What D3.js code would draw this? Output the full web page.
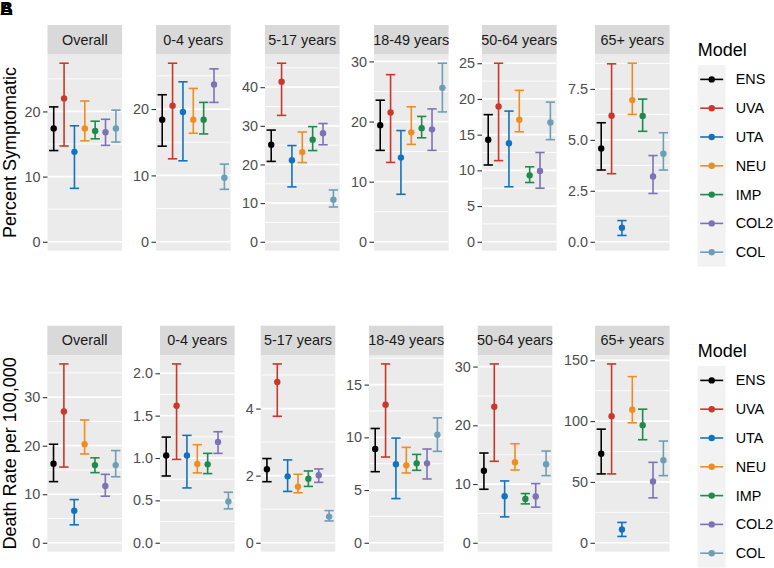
<!DOCTYPE html>
<html>
<head>
<meta charset="utf-8">
<script src="https://cdn.jsdelivr.net/npm/d3@7"></script>
<style>
  html, body { margin: 0; padding: 0; background: #ffffff; }
  svg { display: block; font-family: "Liberation Sans", Arial, Helvetica, sans-serif; }
</style>
</head>
<body>
<svg id="chart" width="774" height="568"></svg>
<script>
// ---------------- DATA ----------------
const models = ["ENS", "UVA", "UTA", "NEU", "IMP", "COL2", "COL"];
const modelColors = ["#000000", "#C8382B", "#1372C0", "#EE8D20", "#1E8A4C", "#7D72B5", "#6E9EB3"];
const panels = ["Overall", "0-4 years", "5-17 years", "18-49 years", "50-64 years", "65+ years"];

// Percent Symptomatic (rows = panels, columns = models)
const symptomaticEst = [
  [17.4, 22.0, 13.8, 17.4, 17.0, 16.8, 17.4],
  [18.4, 20.5, 19.55, 18.4, 18.4, 23.7, 9.65],
  [25.1, 41.4, 21.1, 23.2, 26.4, 28.1, 10.9],
  [19.4, 21.5, 14.0, 18.2, 18.9, 18.7, 25.6],
  [14.3, 18.95, 13.8, 17.1, 9.3, 9.9, 16.7],
  [4.58, 6.18, 0.69, 6.95, 6.17, 3.2, 4.32]
];
const symptomaticLow = [
  [14.0, 14.7, 8.2, 15.5, 15.8, 14.8, 15.3],
  [14.4, 12.5, 12.2, 16.35, 16.25, 21.0, 7.9],
  [20.8, 32.7, 14.2, 20.5, 23.6, 25.1, 9.0],
  [15.2, 13.2, 7.9, 16.2, 17.3, 15.2, 21.6],
  [10.75, 11.36, 7.7, 15.4, 8.3, 7.5, 14.3],
  [3.52, 3.34, 0.31, 6.25, 5.42, 2.37, 3.52]
];
const symptomaticHigh = [
  [20.7, 27.4, 17.8, 21.6, 18.5, 18.8, 20.2],
  [22.15, 26.9, 24.1, 23.1, 21.0, 26.05, 11.7],
  [28.9, 46.2, 24.9, 28.4, 29.8, 30.6, 13.4],
  [23.55, 27.8, 18.5, 22.45, 20.85, 22.1, 29.7],
  [17.8, 25.0, 18.3, 21.2, 10.5, 12.5, 19.55],
  [5.84, 8.73, 1.04, 8.76, 7.0, 4.23, 5.35]
];

// Death Rate per 100,000
const deathEst = [
  [16.3, 27.05, 6.6, 20.3, 16.0, 11.7, 16.0],
  [1.03, 1.616, 1.03, 0.929, 0.925, 1.19, 0.486],
  [2.19, 4.79, 1.98, 1.67, 1.91, 2.01, 0.78],
  [8.89, 13.1, 7.44, 7.34, 7.53, 7.53, 10.24],
  [12.28, 23.15, 7.92, 13.7, 7.47, 7.87, 13.36],
  [73.2, 104.1, 10.9, 109.3, 96.7, 50.3, 67.8]
];
const deathLow = [
  [12.6, 15.6, 3.7, 18.3, 14.45, 9.6, 13.6],
  [0.788, 0.984, 0.647, 0.824, 0.816, 1.055, 0.40],
  [1.82, 3.77, 1.53, 1.49, 1.68, 1.80, 0.65],
  [6.74, 8.13, 4.19, 6.62, 6.87, 6.05, 8.67],
  [9.11, 13.87, 4.41, 12.39, 6.62, 6.06, 11.43],
  [56.6, 56.6, 5.2, 98.6, 84.7, 36.9, 55.2]
];
const deathHigh = [
  [20.3, 36.85, 8.9, 25.3, 17.5, 14.1, 19.0],
  [1.247, 2.11, 1.267, 1.157, 1.055, 1.31, 0.596],
  [2.51, 5.33, 2.47, 2.04, 2.14, 2.20, 0.96],
  [10.84, 16.96, 9.93, 9.05, 8.38, 8.89, 11.85],
  [15.28, 30.45, 10.53, 16.86, 8.38, 10.07, 15.62],
  [93.4, 147.0, 16.7, 136.6, 109.8, 66.1, 83.6]
];

// Tick labels per panel
const symptomaticTicks = [
  [0, 10, 20], [0, 10, 20], [0, 10, 20, 30, 40], [0, 10, 20, 30], [0, 5, 10, 15, 20, 25], [0, 2.5, 5, 7.5]
];
const deathTicks = [
  [0, 10, 20, 30], [0, 0.5, 1, 1.5, 2], [0, 2, 4], [0, 5, 10, 15], [0, 10, 20, 30], [0, 50, 100, 150]
];
const symptomaticDecimals = [0, 0, 0, 0, 0, 1];
const deathDecimals = [0, 1, 0, 0, 0, 0];

const rowTitles = ["Percent Symptomatic", "Death Rate per 100,000"];
const legendTitle = "Model";

// ---------------- LAYOUT ----------------
const svg = d3.select("#chart");
const smallFont = 14.4, baseFont = 18;
const panelW = 74.6, stripH = 29.3;

const rows = [
  {
    est: symptomaticEst, lo: symptomaticLow, hi: symptomaticHigh,
    ticks: symptomaticTicks, dec: symptomaticDecimals, title: rowTitles[0],
    stripTop: 25, panelBottom: 250.7,
    lefts: [47.5, 156, 265, 374, 482, 595],
    legendTitleY: 55.5, legendTop: 65
  },
  {
    est: deathEst, lo: deathLow, hi: deathHigh,
    ticks: deathTicks, dec: deathDecimals, title: rowTitles[1],
    stripTop: 325.7, panelBottom: 551.7,
    lefts: [47.3, 160, 260.7, 369, 477.7, 595],
    legendTitleY: 356.5, legendTop: 366
  }
];

rows.forEach(row => {
  const panelTop = row.stripTop + stripH;
  panels.forEach((pname, pi) => {
    const left = row.lefts[pi];
    const g = svg.append("g");
    const lows = row.lo[pi], highs = row.hi[pi], ests = row.est[pi];
    const hiV = d3.max(highs), loV = Math.min(0, d3.min(lows));
    const pad = (hiV - loV) * 0.05;
    const y = d3.scaleLinear().domain([loV - pad, hiV + pad]).range([row.panelBottom, panelTop]);
    const x = d3.scalePoint().domain(models).range([left, left + panelW]).padding(0.6);
    const step = x.step();

    // panel background
    g.append("rect").attr("x", left).attr("y", panelTop)
      .attr("width", panelW).attr("height", row.panelBottom - panelTop)
      .attr("fill", "#EBEBEB");

    // minor grid
    const t = row.ticks[pi];
    const s = t[1] - t[0];
    const minors = [];
    for (let k = -1; k <= t.length; k++) {
      const v = t[0] + (k + 0.5) * s;
      if (v > y.domain()[0] && v < y.domain()[1]) minors.push(v);
    }
    g.selectAll(".minor").data(minors).join("line")
      .attr("x1", left).attr("x2", left + panelW)
      .attr("y1", d => y(d)).attr("y2", d => y(d))
      .attr("stroke", "#FFFFFF").attr("stroke-width", 0.9);
    g.selectAll(".major").data(t).join("line")
      .attr("x1", left).attr("x2", left + panelW)
      .attr("y1", d => y(d)).attr("y2", d => y(d))
      .attr("stroke", "#FFFFFF").attr("stroke-width", 1.7);

    // strip
    g.append("rect").attr("x", left).attr("y", row.stripTop)
      .attr("width", panelW).attr("height", stripH).attr("fill", "#D9D9D9");
    g.append("text").attr("x", left + panelW / 2).attr("y", row.stripTop + stripH / 2)
      .attr("text-anchor", "middle").attr("dominant-baseline", "central")
      .attr("font-size", smallFont).attr("fill", "#1A1A1A").text(pname);

    // y axis
    const fmt = row.dec[pi] ? d3.format(".1f") : d3.format("d");
    const axis = d3.axisLeft(y).tickValues(t).tickFormat(fmt).tickSize(4.5).tickPadding(2.5);
    const ag = g.append("g").attr("transform", `translate(${left},0)`).call(axis);
    ag.select(".domain").remove();
    ag.selectAll(".tick line").attr("stroke", "#333333").attr("stroke-width", 1.1);
    ag.selectAll(".tick text").attr("fill", "#4D4D4D").attr("font-size", smallFont)
      .attr("font-family", "\"Liberation Sans\", Arial, sans-serif");

    // error bars
    const capW = step * 0.9;
    models.forEach((m, mi) => {
      const cx = x(m), col = modelColors[mi];
      const eb = g.append("g").attr("stroke", col).attr("stroke-width", 1.6).attr("fill", "none");
      eb.append("line").attr("x1", cx).attr("x2", cx).attr("y1", y(highs[mi])).attr("y2", y(lows[mi]));
      eb.append("line").attr("x1", cx - capW / 2).attr("x2", cx + capW / 2).attr("y1", y(highs[mi])).attr("y2", y(highs[mi]));
      eb.append("line").attr("x1", cx - capW / 2).attr("x2", cx + capW / 2).attr("y1", y(lows[mi])).attr("y2", y(lows[mi]));
    });
    g.selectAll(".pt").data(models).join("circle")
      .attr("cx", d => x(d)).attr("cy", (d, i) => y(ests[i]))
      .attr("r", 3.2).attr("fill", (d, i) => modelColors[i]);
  });

  // row title
  const cy = (panelTop + row.panelBottom) / 2;
  svg.append("text").attr("transform", `translate(15.5,${cy}) rotate(-90)`)
    .attr("text-anchor", "middle").attr("font-size", baseFont).attr("fill", "#000000")
    .text(row.title);

  // legend
  const lx = 697.7, keyW = 28, keyH = 28.8;
  svg.append("text").attr("x", lx).attr("y", row.legendTitleY)
    .attr("font-size", baseFont).attr("fill", "#000000").text(legendTitle);
  const ly = d3.scaleBand().domain(models).range([row.legendTop, row.legendTop + keyH * models.length]);
  svg.append("rect").attr("x", lx).attr("y", row.legendTop).attr("width", keyW)
    .attr("height", keyH * models.length).attr("fill", "#F2F2F2");
  models.forEach((m, mi) => {
    const yc = ly(m) + ly.bandwidth() / 2;
    svg.append("line").attr("x1", lx + 2.5).attr("x2", lx + keyW - 2.5).attr("y1", yc).attr("y2", yc)
      .attr("stroke", modelColors[mi]).attr("stroke-width", 1.6);
    svg.append("circle").attr("cx", lx + keyW / 2).attr("cy", yc).attr("r", 3.2).attr("fill", modelColors[mi]);
    svg.append("text").attr("x", 735.7).attr("y", yc).attr("dominant-baseline", "central")
      .attr("font-size", smallFont).attr("fill", "#000000").text(m);
  });
});

// panel tags (overlapping as in the figure)
svg.append("text").attr("x", 0).attr("y", 15).attr("font-size", 18).attr("font-weight", "bold").attr("fill", "#000").text("B");
svg.append("text").attr("x", 0).attr("y", 15).attr("font-size", 18).attr("font-weight", "bold").attr("fill", "#000").text("A");
</script>
</body>
</html>
